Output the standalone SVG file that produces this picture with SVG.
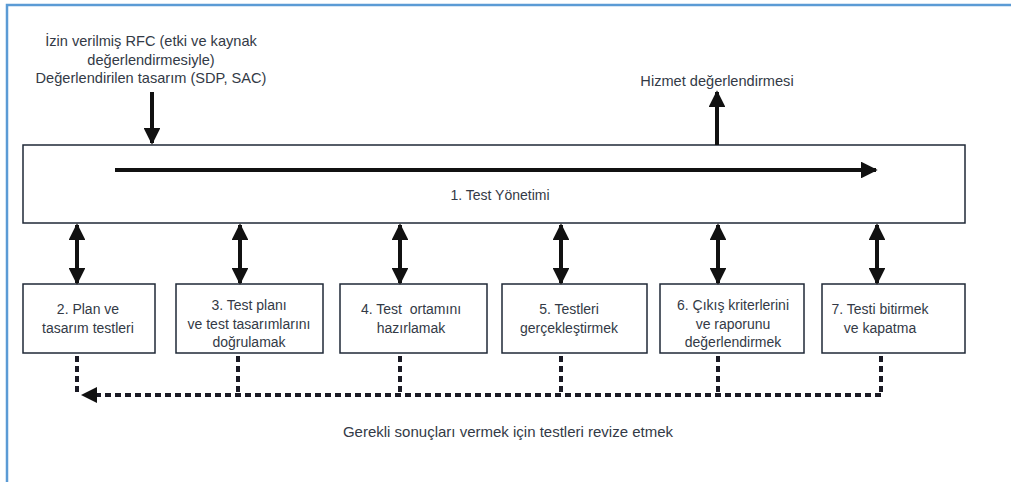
<svg xmlns="http://www.w3.org/2000/svg" width="1011" height="482" viewBox="0 0 1011 482">
  <style>
    .frame { stroke: #5b9bd5; stroke-width: 2.5; fill: none; }
    .box { fill: #ffffff; stroke: #1f2937; stroke-width: 1.5; }
    .lbl { font-family: "Liberation Sans", Arial, sans-serif; font-size: 14px; fill: #333a46; text-anchor: middle; }
    .big { font-size: 14.6px; }
    .flow { stroke: #111111; stroke-width: 4; fill: none; }
    .dash { stroke: #1a1a24; stroke-width: 4; fill: none; stroke-dasharray: 6 4; }
  </style>
  <defs>
    <marker id="head" viewBox="0 0 10 10" refX="9" refY="5" markerWidth="4.2" markerHeight="4.2" orient="auto-start-reverse" markerUnits="strokeWidth">
      <path d="M0,0 L10,5 L0,10 Z" fill="#111111"/>
    </marker>
  </defs>

  <rect width="1011" height="482" fill="#ffffff"/>
  <!-- page frame: top and left edges only -->
  <path class="frame" d="M7,482 V5 H1011"/>

  <!-- inputs / outputs -->
  <g id="input-label">
    <text class="lbl big" x="151" y="46">İzin verilmiş RFC (etki ve kaynak</text>
    <text class="lbl big" x="151" y="65">değerlendirmesiyle)</text>
    <text class="lbl big" x="151" y="83">Değerlendirilen tasarım (SDP, SAC)</text>
  </g>
  <g id="output-label">
    <text class="lbl big" x="717" y="86">Hizmet değerlendirmesi</text>
  </g>

  <!-- main management node -->
  <g id="n1">
    <rect class="box" x="23" y="145" width="942" height="78"/>
    <text class="lbl" x="500" y="200">1. Test Yönetimi</text>
  </g>

  <!-- process steps -->
  <g id="n2">
    <rect class="box" x="23" y="284" width="132" height="69"/>
    <text class="lbl" x="88" y="314">2. Plan ve</text>
    <text class="lbl" x="88" y="333">tasarım testleri</text>
  </g>
  <g id="n3">
    <rect class="box" x="176" y="284" width="147" height="69"/>
    <text class="lbl" x="249" y="310">3. Test planı</text>
    <text class="lbl" x="249" y="329">ve test tasarımlarını</text>
    <text class="lbl" x="249" y="347">doğrulamak</text>
  </g>
  <g id="n4">
    <rect class="box" x="340" y="284" width="147" height="69"/>
    <text class="lbl" x="411" y="314" xml:space="preserve">4. Test  ortamını</text>
    <text class="lbl" x="411" y="333">hazırlamak</text>
  </g>
  <g id="n5">
    <rect class="box" x="502" y="284" width="145" height="69"/>
    <text class="lbl" x="569" y="314">5. Testleri</text>
    <text class="lbl" x="569" y="333">gerçekleştirmek</text>
  </g>
  <g id="n6">
    <rect class="box" x="660" y="284" width="144" height="69"/>
    <text class="lbl" x="733" y="310">6. Çıkış kriterlerini</text>
    <text class="lbl" x="733" y="329">ve raporunu</text>
    <text class="lbl" x="733" y="347">değerlendirmek</text>
  </g>
  <g id="n7">
    <rect class="box" x="822" y="284" width="143" height="69"/>
    <text class="lbl" x="880" y="314">7. Testi bitirmek</text>
    <text class="lbl" x="880" y="333">ve kapatma</text>
  </g>

  <g id="feedback-label">
    <text class="lbl" x="508" y="437" style="font-size:15px">Gerekli sonuçları vermek için testleri revize etmek</text>
  </g>

  <!-- connectors -->
  <g id="connectors">
    <line class="flow" x1="152" y1="92" x2="152" y2="143" marker-end="url(#head)"/>
    <line class="flow" x1="717" y1="145" x2="717" y2="92" marker-end="url(#head)"/>
    <line class="flow" x1="115" y1="170" x2="876" y2="170" marker-end="url(#head)"/>

    <line class="flow" x1="77" y1="225" x2="77" y2="283" marker-start="url(#head)" marker-end="url(#head)"/>
    <line class="flow" x1="240" y1="225" x2="240" y2="283" marker-start="url(#head)" marker-end="url(#head)"/>
    <line class="flow" x1="400" y1="225" x2="400" y2="283" marker-start="url(#head)" marker-end="url(#head)"/>
    <line class="flow" x1="561" y1="225" x2="561" y2="283" marker-start="url(#head)" marker-end="url(#head)"/>
    <line class="flow" x1="718" y1="225" x2="718" y2="283" marker-start="url(#head)" marker-end="url(#head)"/>
    <line class="flow" x1="877" y1="225" x2="877" y2="283" marker-start="url(#head)" marker-end="url(#head)"/>

    <line class="dash" x1="77" y1="356" x2="77" y2="393"/>
    <line class="dash" x1="238" y1="356" x2="238" y2="394"/>
    <line class="dash" x1="400" y1="356" x2="400" y2="394"/>
    <line class="dash" x1="561" y1="356" x2="561" y2="394"/>
    <line class="dash" x1="718" y1="356" x2="718" y2="394"/>
    <line class="dash" x1="881" y1="356" x2="881" y2="394"/>
    <line class="dash" x1="881" y1="395" x2="96" y2="395"/>
    <path d="M81,395 L97,387 L97,403 Z" fill="#111111"/>
  </g>
</svg>
